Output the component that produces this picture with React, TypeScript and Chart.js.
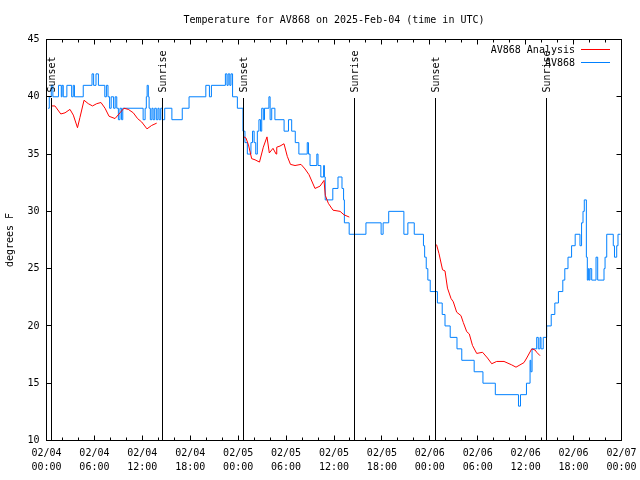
import React, { useEffect, useRef } from 'react';
import { Chart, registerables } from 'chart.js';

Chart.register(...registerables);

const FONT = "'DejaVu Sans Mono', 'Liberation Mono', monospace";

const titleText = 'Temperature for AV868 on 2025-Feb-04 (time in UTC)';
const yAxisTitle = 'degrees F';
const xTickDates = ['02/04', '02/04', '02/04', '02/04', '02/05', '02/05', '02/05', '02/05', '02/06', '02/06', '02/06', '02/06', '02/07'];
const xTickTimes = ['00:00', '06:00', '12:00', '18:00', '00:00', '06:00', '12:00', '18:00', '00:00', '06:00', '12:00', '18:00', '00:00'];

// hours since 02/04 00:00 UTC
const sunEventHours = [0.6, 14.5, 24.64, 38.54, 48.69, 62.59];
const sunEventLabels = ['Sunset', 'Sunrise', 'Sunset', 'Sunrise', 'Sunset', 'Sunrise'];

// AV868 observations (value changes to temp at given hour)
const obsHours = [
  0.2, 0.35, 0.6, 0.8, 1.5, 1.85, 1.95, 2.1, 2.55, 3.15, 3.35, 3.5, 4.6, 5.7, 5.9, 6.2, 6.5, 7.3, 7.5, 7.7,
  7.9, 8.1, 8.4, 8.6, 8.8, 9.0, 9.2, 9.4, 9.55, 12.1, 12.35, 12.5, 12.6, 12.75, 12.85, 13.0, 13.2, 13.35, 13.55, 13.75,
  13.95, 14.1, 14.3, 14.5, 14.8, 15.7, 17.0, 17.85, 19.95, 20.4, 20.65, 22.4, 22.6, 22.75, 22.95, 23.1, 23.3, 23.9, 24.6, 24.85,
  25.15, 25.6, 25.8, 26.0, 26.2, 26.4, 26.6, 26.8, 26.95, 27.15, 27.3, 27.85, 28.0, 28.2, 28.6, 29.75, 30.3, 30.7, 31.15, 31.6,
  32.65, 32.8, 33.0, 33.85, 34.0, 34.35, 34.7, 34.8, 34.9, 35.85, 36.5, 37.0, 37.2, 37.3, 37.9, 40.0, 41.9, 42.15, 42.85, 44.75,
  45.25, 46.05, 47.2, 47.35, 47.55, 47.75, 48.05, 48.95, 49.55, 49.9, 50.55, 51.4, 52.0, 53.55, 54.65, 56.2, 59.1, 59.35, 60.1, 60.55,
  60.65, 60.8, 61.38, 61.58, 61.8, 61.92, 62.2, 62.63, 63.2, 63.65, 64.1, 64.65, 64.9, 65.3, 65.75, 66.2, 66.8, 67.0, 67.18, 67.34,
  67.6, 67.72, 67.85, 67.95, 68.06, 68.27, 68.81, 69.02, 69.81, 69.94, 70.15, 70.97, 71.12, 71.4, 71.56, 71.85,
];
const obsTemps = [
  39, 40, 41, 40, 41, 40, 41, 40, 41, 40, 41, 40, 41, 42, 41, 42, 41, 40, 41, 40,
  39, 40, 39, 40, 39, 38, 39, 38, 39, 38, 39, 40, 41, 40, 39, 38, 39, 38, 39, 38,
  39, 38, 39, 38, 39, 38, 39, 40, 41, 40, 41, 42, 41, 42, 41, 42, 40, 39, 37, 36,
  35, 36, 37, 36, 35, 37, 38, 37, 39, 38, 39, 40, 38, 39, 38, 37, 38, 37, 36, 35,
  36, 35, 34, 35, 34, 33, 34, 33, 31, 32, 33, 32, 31, 29, 28, 29, 28, 29, 30, 28,
  29, 28, 27, 26, 25, 24, 23, 22, 21, 20, 19, 18, 17, 16, 15, 14, 13, 14, 15, 17,
  16, 18, 19, 18, 19, 18, 19, 20, 21, 22, 23, 24, 25, 26, 27, 28, 27, 29, 30, 31,
  26, 24, 25, 24, 25, 24, 26, 24, 25, 26, 28, 27, 26, 27, 28, 28,
];

// AV868 Analysis (null = gap between runs)
const anaHours = [
  0.65, 1.06, 1.79, 2.32, 2.94, 3.36, 3.88, 4.19, 4.7, 5.23, 5.76, 6.29, 6.82, 7.33, 7.83, 8.58, 9.2, 9.7, 10.24, 10.87,
  11.4, 11.92, 12.58, 13.17, 13.8, 19.0,
  24.73, 24.98, 25.29, 25.69, 26.11, 26.67, 27.15, 27.61, 27.9, 28.36, 28.75, 28.83, 29.24, 29.74, 30.15, 30.55, 31.12, 31.87, 32.37, 32.87,
  33.62, 34.25, 34.75, 34.91, 35.29, 35.88, 36.76, 37.25, 37.92, 43.0,
  48.84, 49.15, 49.59, 49.9, 50.21, 50.65, 50.94, 51.36, 51.9, 52.19, 52.62, 52.94, 53.34, 53.87, 54.6, 55.22, 55.75, 56.37, 57.29, 58.25,
  58.79, 59.29, 59.79, 60.13, 60.76, 61.17, 61.38, 61.8,
];
const anaTemps = [
  39.2, 39.2, 38.5, 38.6, 38.9, 38.4, 37.3, 38.2, 39.7, 39.4, 39.2, 39.4, 39.5, 39.0, 38.3, 38.1, 38.6, 39.0, 38.9, 38.6,
  38.1, 37.8, 37.2, 37.5, 37.7, null,
  36.5, 36.4, 35.8, 34.6, 34.5, 34.3, 35.6, 36.5, 35.1, 35.5, 35.0, 35.6, 35.7, 35.9, 34.8, 34.1, 34.0, 34.1, 33.7, 33.2,
  32.0, 32.2, 32.7, 31.4, 30.7, 30.1, 30.0, 29.7, 29.5, null,
  27.1, 26.3, 24.9, 24.8, 23.3, 22.4, 22.1, 21.2, 20.9, 20.3, 19.5, 19.3, 18.3, 17.6, 17.7, 17.2, 16.7, 16.9, 16.9, 16.6,
  16.4, 16.6, 16.8, 17.2, 18.0, 17.9, 17.7, 17.4,
];

const RED = '#ff0000';
const BLUE = '#0080ff';

const snap = (v: number) => Math.floor(v) + 0.5;

const gnuFrame = {
  id: 'gnuFrame',
  afterDatasetsDraw(chart: any) {
    const { ctx, chartArea: a, scales } = chart;
    const x = scales.x;
    const y = scales.y;
    ctx.save();
    ctx.strokeStyle = '#000';
    ctx.fillStyle = '#000';
    ctx.lineWidth = 1;
    ctx.font = `10px ${FONT}`;

    // sunrise / sunset markers
    sunEventHours.forEach((h, i) => {
      const px = snap(x.getPixelForValue(h));
      ctx.beginPath();
      ctx.moveTo(px, 98);
      ctx.lineTo(px, a.bottom);
      ctx.stroke();
      ctx.save();
      ctx.translate(px + 1, 92.5);
      ctx.rotate(-Math.PI / 2);
      ctx.textAlign = 'left';
      ctx.textBaseline = 'middle';
      ctx.fillText(sunEventLabels[i], 0, 0);
      ctx.restore();
    });

    // border
    ctx.strokeRect(a.left, a.top, a.right - a.left, a.bottom - a.top);

    // x ticks (inward, mirrored)
    ctx.beginPath();
    for (let h = 0; h <= 72; h += 2) {
      const px = snap(x.getPixelForValue(h));
      const len = h % 6 === 0 ? 5 : 3;
      ctx.moveTo(px, a.bottom);
      ctx.lineTo(px, a.bottom - len);
      ctx.moveTo(px, a.top);
      ctx.lineTo(px, a.top + len);
    }
    // y ticks
    for (let v = 10; v <= 45; v += 5) {
      const py = snap(y.getPixelForValue(v));
      ctx.moveTo(a.left, py);
      ctx.lineTo(a.left + 5, py);
      ctx.moveTo(a.right, py);
      ctx.lineTo(a.right - 5, py);
    }
    ctx.stroke();

    // legend
    const rows = [49.5, 62.5];
    chart.data.datasets.forEach((ds: any, i: number) => {
      const ry = rows[i];
      ctx.textAlign = 'right';
      ctx.textBaseline = 'middle';
      ctx.fillStyle = '#000';
      ctx.fillText(ds.label, 575, ry + 0.5);
      ctx.strokeStyle = ds.borderColor;
      ctx.beginPath();
      ctx.moveTo(581, ry);
      ctx.lineTo(610, ry);
      ctx.stroke();
    });
    ctx.restore();
  },
};

export default function App() {
  const ref = useRef<HTMLCanvasElement | null>(null);

  useEffect(() => {
    if (!ref.current) return;
    const obs = obsHours.map((h, i) => ({ x: h, y: obsTemps[i] }));
    const ana = anaHours.map((h, i) => ({ x: h, y: anaTemps[i] }));
    const tickFont = { family: FONT, size: 10, weight: 'normal' as const };
    const chart = new Chart(ref.current, {
      type: 'line',
      data: {
        datasets: [
          {
            label: 'AV868 Analysis',
            data: ana as any,
            borderColor: RED,
            backgroundColor: RED,
            borderWidth: 1,
            pointRadius: 0,
            fill: false,
            spanGaps: false,
            tension: 0,
          },
          {
            label: 'AV868',
            data: obs as any,
            borderColor: BLUE,
            backgroundColor: BLUE,
            borderWidth: 1,
            pointRadius: 0,
            fill: false,
            stepped: 'before',
          },
        ],
      },
      options: {
        responsive: false,
        animation: false,
        events: [],
        layout: { padding: { left: 0, right: 18.5, top: 0, bottom: 0 } },
        plugins: {
          legend: { display: false },
          tooltip: { enabled: false },
          title: {
            display: true,
            text: titleText,
            fullSize: false,
            color: '#000',
            font: { family: FONT, size: 10, weight: 'normal', lineHeight: 1.2 },
            padding: { top: 14, bottom: 13.5 },
          },
        },
        scales: {
          x: {
            type: 'linear',
            min: 0,
            max: 72,
            grid: { display: false, drawTicks: false },
            border: { display: false },
            ticks: {
              stepSize: 6,
              autoSkip: false,
              maxRotation: 0,
              padding: 6,
              color: '#000',
              font: { ...tickFont, lineHeight: 1.4 },
              callback: (v: any) => {
                const i = Math.round(Number(v) / 6);
                return [xTickDates[i], xTickTimes[i]];
              },
            },
            afterFit: (s: any) => {
              s.height = 39.5;
              s.paddingLeft = 0;
              s.paddingRight = 0;
            },
          },
          y: {
            type: 'linear',
            min: 10,
            max: 45,
            grid: { display: false, drawTicks: false },
            border: { display: false },
            ticks: { stepSize: 5, padding: 7, color: '#000', font: tickFont },
            title: {
              display: true,
              text: yAxisTitle,
              color: '#000',
              font: { ...tickFont, lineHeight: 1.2 },
              padding: { top: 4, bottom: 0 },
            },
            afterFit: (s: any) => {
              s.width = 46.5;
              s.paddingTop = 0;
              s.paddingBottom = 0;
            },
          },
        },
      },
      plugins: [gnuFrame],
    });
    return () => chart.destroy();
  }, []);

  return (
    <div style={{ position: 'fixed', left: 0, top: 0, width: 640, height: 480, background: '#fff' }}>
      <canvas ref={ref} width={640} height={480} />
    </div>
  );
}
